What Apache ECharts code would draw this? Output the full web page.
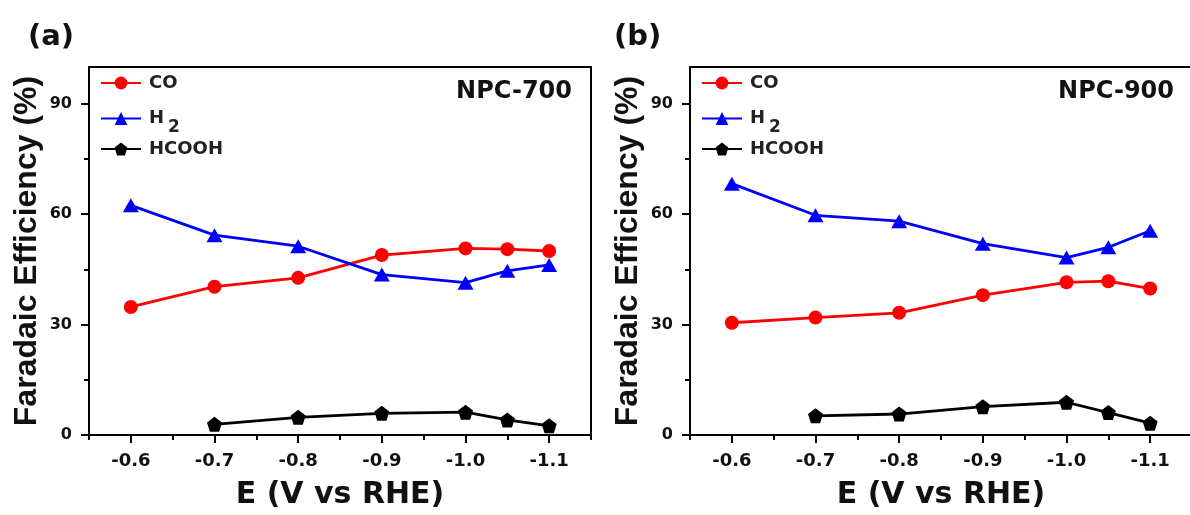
<!DOCTYPE html>
<html>
<head>
<meta charset="utf-8">
<script src="https://cdn.jsdelivr.net/npm/echarts@6/dist/echarts.min.js"></script>
<style>
  html, body { margin: 0; padding: 0; background: #fff; overflow: hidden; }
  #chart { width: 1190px; height: 515px; }
</style>
</head>
<body>
<div id="chart"></div>
<script>
// Applied potentials (V vs RHE)
const potentials = [-0.6, -0.7, -0.8, -0.9, -1.0, -1.05, -1.1];
const hcoohPotentials = [-0.7, -0.8, -0.9, -1.0, -1.05, -1.1];

// Faradaic efficiencies (%) for NPC-700
const coNPC700 = [34.8, 40.3, 42.7, 48.9, 50.7, 50.5, 50.0];
const h2NPC700 = [62.4, 54.3, 51.3, 43.6, 41.4, 44.6, 46.2];
const hcoohNPC700 = [2.9, 4.8, 5.9, 6.2, 4.1, 2.5];

// Faradaic efficiencies (%) for NPC-900
const coNPC900 = [30.5, 31.9, 33.2, 38.0, 41.5, 41.8, 39.8];
const h2NPC900 = [68.3, 59.7, 58.1, 52.0, 48.2, 51.0, 55.5];
const hcoohNPC900 = [5.2, 5.7, 7.7, 8.9, 6.1, 3.2];

// Tick positions
const yMajorTicks = [0, 30, 60, 90];
const yMinorTicks = [15, 45, 75];
const xMajorTicks = [-0.6, -0.7, -0.8, -0.9, -1.0, -1.1];
const xMinorTicks = [-0.55, -0.65, -0.75, -0.85, -0.95, -1.05, -1.15];

const panelLabels = ['(a)', '(b)'];
const sampleNames = ['NPC-700', 'NPC-900'];
const productNames = ['CO', 'H2', 'HCOOH'];

const BOLD_WIDE = 'DejaVu Sans';
const BOLD_NARROW = 'Liberation Sans';
const RED = '#ff0000', BLUE = '#0000ff', BLACK = '#000000';
const PENTAGON = 'path://M0,-10 L9.51,-3.09 L5.88,8.09 L-5.88,8.09 L-9.51,-3.09 Z';

const gridLefts = [89, 690];
const grids = gridLefts.map(left => ({
  left: left, top: 67, width: 502, height: 368,
  outerBoundsMode: 'none', containLabel: false, show: false
}));

const frameLine = { show: true, onZero: false, lineStyle: { color: '#000', width: 2 } };

const xAxes = [];
const yAxes = [];
gridLefts.forEach((_, g) => {
  // main bottom axis: labelled ticks every 0.1 V
  xAxes.push({
    type: 'value', gridIndex: g, position: 'bottom',
    min: -1.15, max: -0.55, inverse: true,
    axisLine: frameLine,
    axisTick: { show: true, inside: false, length: 8, customValues: xMajorTicks,
                lineStyle: { color: '#000', width: 2 } },
    axisLabel: { show: true, customValues: xMajorTicks, margin: 17,
                 formatter: v => v.toFixed(1),
                 color: '#111', fontFamily: BOLD_WIDE, fontWeight: 'bold', fontSize: 18 },
    splitLine: { show: false },
    name: 'E (V vs RHE)', nameLocation: 'middle', nameGap: 45,
    nameTextStyle: { color: '#111', fontFamily: BOLD_WIDE, fontWeight: 'bold', fontSize: 30 }
  });
  // short intermediate ticks
  xAxes.push({
    type: 'value', gridIndex: g, position: 'bottom',
    min: -1.15, max: -0.55, inverse: true,
    axisLine: { show: false, onZero: false },
    axisTick: { show: true, inside: false, length: 5, customValues: xMinorTicks,
                lineStyle: { color: '#000', width: 2 } },
    axisLabel: { show: false },
    splitLine: { show: false }
  });
  // top edge of the frame
  xAxes.push({
    type: 'value', gridIndex: g, position: 'top',
    min: -1.15, max: -0.55, inverse: true,
    axisLine: frameLine, axisTick: { show: false }, axisLabel: { show: false },
    splitLine: { show: false }
  });
  yAxes.push({
    type: 'value', gridIndex: g, position: 'left',
    min: 0, max: 100,
    axisLine: frameLine,
    axisTick: { show: true, inside: false, length: 8, customValues: yMajorTicks,
                lineStyle: { color: '#000', width: 2 } },
    axisLabel: { show: true, customValues: yMajorTicks, margin: 17,
                 color: '#111', fontFamily: BOLD_WIDE, fontWeight: 'bold', fontSize: 16 },
    splitLine: { show: false },
    name: 'Faradaic Efficiency (%)', nameLocation: 'middle', nameGap: 46,
    nameTextStyle: { color: '#111', fontFamily: BOLD_NARROW, fontWeight: 'bold', fontSize: 32 }
  });
  yAxes.push({
    type: 'value', gridIndex: g, position: 'left',
    min: 0, max: 100,
    axisLine: { show: false, onZero: false },
    axisTick: { show: true, inside: false, length: 5, customValues: yMinorTicks,
                lineStyle: { color: '#000', width: 2 } },
    axisLabel: { show: false },
    splitLine: { show: false }
  });
  // right edge of the frame (panel b runs past the page edge)
  yAxes.push({
    type: 'value', gridIndex: g, position: 'right',
    min: 0, max: 100,
    axisLine: { show: g === 0, onZero: false, lineStyle: { color: '#000', width: 2 } },
    axisTick: { show: false }, axisLabel: { show: false },
    splitLine: { show: false }
  });
});

function lineSeries(name, color, symbol, size, xs, ys, panel) {
  return {
    type: 'line', name: name,
    xAxisIndex: panel * 3, yAxisIndex: panel * 3,
    data: xs.map((x, i) => [x, ys[i]]),
    symbol: symbol, symbolSize: size, showSymbol: true,
    lineStyle: { color: color, width: 2.8 },
    itemStyle: { color: color, borderWidth: 0 },
    emphasis: { disabled: true },
    z: 3
  };
}

const series = [
  lineSeries('CO', RED, 'circle', 14, potentials, coNPC700, 0),
  lineSeries('H2', BLUE, 'triangle', [16, 14], potentials, h2NPC700, 0),
  lineSeries('HCOOH', BLACK, PENTAGON, 15, hcoohPotentials, hcoohNPC700, 0),
  lineSeries('CO', RED, 'circle', 14, potentials, coNPC900, 1),
  lineSeries('H2', BLUE, 'triangle', [16, 14], potentials, h2NPC900, 1),
  lineSeries('HCOOH', BLACK, PENTAGON, 15, hcoohPotentials, hcoohNPC900, 1)
];

// One legend per row so each entry sits at its own height
const legendRowTops = { 'CO': 74, 'H2': 109, 'HCOOH': 140 };
const legends = [];
gridLefts.forEach(left => {
  productNames.forEach(name => {
    legends.push({
      left: left + 11, top: legendRowTops[name], padding: 0,
      orient: 'vertical', selectedMode: false,
      data: [name], itemWidth: 40, itemHeight: 16,
      formatter: n => n === 'H2' ? '{b|H}{sub|2}' : n,
      textStyle: {
        color: '#222', fontFamily: BOLD_WIDE, fontWeight: 'bold', fontSize: 18,
        padding: [0, 0, 0, 3],
        rich: {
          b: { fontFamily: BOLD_WIDE, fontWeight: 'bold', fontSize: 18, color: '#222',
               verticalAlign: 'top', padding: [8, 0, 8, 0] },
          sub: { fontFamily: BOLD_WIDE, fontWeight: 'bold', fontSize: 17, color: '#222',
                 verticalAlign: 'top', padding: [18, 0, 0, 4] }
        }
      }
    });
  });
});

const titles = [
  { text: panelLabels[0], left: 28, top: 23 },
  { text: panelLabels[1], left: 614, top: 23 },
].map(t => Object.assign(t, {
  padding: 0,
  textStyle: { color: '#111', fontFamily: BOLD_WIDE, fontWeight: 'bold', fontSize: 29 }
})).concat([
  { text: sampleNames[0], right: 618, top: 80 },
  { text: sampleNames[1], right: 16, top: 80 }
].map(t => Object.assign(t, {
  padding: 0,
  textStyle: { color: '#111', fontFamily: BOLD_WIDE, fontWeight: 'bold', fontSize: 24 }
})));

const chart = echarts.init(document.getElementById('chart'), null, { renderer: 'canvas' });
chart.setOption({
  animation: false,
  backgroundColor: '#fff',
  title: titles,
  legend: legends,
  grid: grids,
  xAxis: xAxes,
  yAxis: yAxes,
  series: series
});
</script>
</body>
</html>
